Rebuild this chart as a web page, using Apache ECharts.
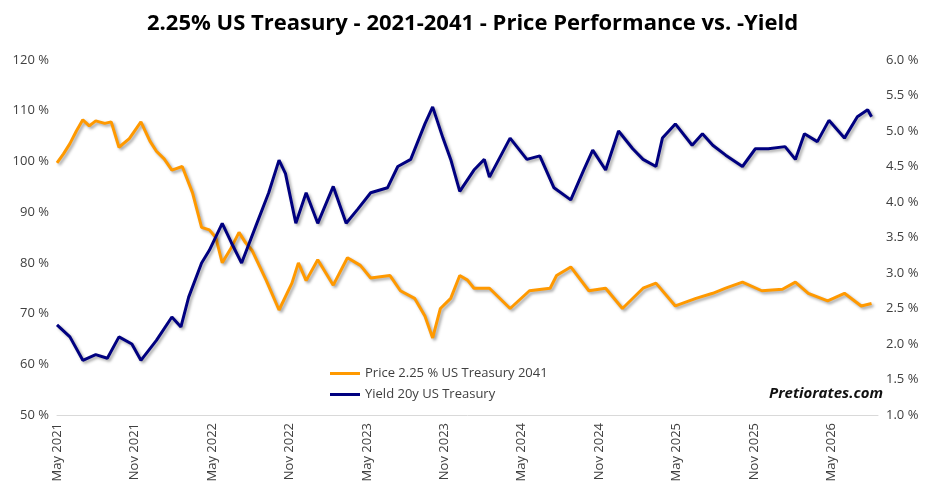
<!DOCTYPE html>
<html>
<head>
<meta charset="utf-8">
<script src="https://cdn.jsdelivr.net/npm/echarts@6/dist/echarts.min.js"></script>
<style>
    html, body { margin: 0; padding: 0; background: #fff; }
    #chart { width: 945px; height: 495px; }
</style>
</head>
<body>
<div id="chart"></div>
<script>
// x values are months since May 2021
var priceMonths = [0, 0.5, 1, 1.5, 2, 2.5, 3, 3.7, 4.2, 4.8, 5.6, 6.5, 7.2, 7.7, 8.3, 8.9, 9.7, 10.5, 11.2, 11.8, 12.3, 12.8, 13.5, 14.1, 14.6, 15.1, 16.2, 17.2, 18.2, 18.7, 19.3, 20.2, 21.4, 22.5, 23.5, 24.3, 25.8, 26.6, 27.7, 28.5, 29.1, 29.7, 30.5, 31.2, 31.8, 32.3, 33.5, 35.1, 36.6, 38.2, 38.7, 39.8, 41.2, 42.5, 43.8, 45.4, 46.4, 47.9, 49.5, 50.8, 51.8, 53.1, 54.6, 56.2, 57.2, 58.2, 59.7, 61, 62.3, 63.1];
var priceValues = [99.7, 101.5, 103.5, 106, 108.2, 107, 108, 107.5, 107.8, 102.8, 104.5, 107.8, 104, 102, 100.5, 98.3, 99, 93.8, 87, 86.5, 85, 80, 83, 86, 84, 82.5, 76.6, 70.7, 76, 80, 76.5, 80.6, 75.6, 81, 79.5, 77, 77.5, 74.5, 73, 69.5, 65.2, 71, 73, 77.5, 76.6, 75, 75, 71, 74.5, 75, 77.5, 79.2, 74.5, 75, 71, 75, 76, 71.5, 73, 74, 75, 76.2, 74.5, 74.8, 76.2, 74, 72.5, 74, 71.5, 72];

var yieldMonths = [0, 1, 2, 3, 3.9, 4.8, 5.8, 6.5, 7.7, 8.9, 9.6, 10.2, 11.2, 11.8, 12.8, 13.5, 14.3, 15.4, 16.4, 17.2, 17.7, 18.5, 19.3, 20.2, 21.4, 22.4, 23.3, 24.3, 25.6, 26.4, 27.4, 28.5, 29.1, 29.9, 30.5, 31.2, 32.3, 33.1, 33.5, 35.1, 36.4, 37.4, 38.5, 39.8, 40.8, 41.5, 42.5, 43.5, 44.6, 45.4, 46.4, 46.9, 47.9, 49.2, 50, 50.8, 51.8, 53.1, 54.1, 55.1, 56.4, 57.2, 57.9, 58.9, 59.8, 61, 62, 62.8, 63.1];
var yieldValues = [2.27, 2.1, 1.77, 1.85, 1.8, 2.1, 2.0, 1.77, 2.05, 2.38, 2.24, 2.66, 3.14, 3.32, 3.7, 3.43, 3.14, 3.66, 4.13, 4.59, 4.4, 3.7, 4.13, 3.7, 4.22, 3.7, 3.9, 4.13, 4.2, 4.5, 4.6, 5.1, 5.34, 4.9, 4.6, 4.15, 4.45, 4.6, 4.35, 4.9, 4.6, 4.65, 4.2, 4.03, 4.45, 4.73, 4.45, 5.0, 4.75, 4.6, 4.5, 4.9, 5.1, 4.8, 4.96, 4.8, 4.66, 4.5, 4.75, 4.75, 4.78, 4.6, 4.96, 4.85, 5.15, 4.9, 5.2, 5.3, 5.2];

var monthNames = ['May', 'Nov'];

function pairs(xs, ys) {
    return xs.map(function(x, i) { return [x, ys[i]]; });
}

var myChart = echarts.init(document.getElementById('chart'));
var font = 'Open Sans';
var option = {
    backgroundColor: '#fff',
    title: {
        text: '2.25% US Treasury - 2021-2041 - Price Performance vs. -Yield',
        left: 'center',
        top: 8,
        textStyle: { fontFamily: font, fontWeight: 'bold', fontSize: 22, color: '#000' }
    },
    legend: {
        orient: 'vertical',
        left: 325,
        top: 362,
        itemWidth: 30,
        itemHeight: 3,
        itemGap: 8,
        icon: 'rect',
        textStyle: { fontFamily: font, fontSize: 13, color: '#404040' },
        data: ['Price 2.25 % US Treasury 2041', 'Yield 20y US Treasury']
    },
    graphic: [{
        type: 'text',
        right: 62,
        top: 386,
        style: { text: 'Pretiorates.com', fontFamily: font, fontWeight: 'bold', fontStyle: 'italic', fontSize: 15, fill: '#111' }
    }],
    grid: { left: 57, right: 67, top: 60, bottom: 80 },
    xAxis: {
        type: 'value',
        min: 0,
        max: 63.6,
        interval: 6,
        splitLine: { show: false },
        axisLine: { show: true, lineStyle: { color: '#d9d9d9' } },
        axisTick: { show: false },
        axisLabel: {
            rotate: 90,
            fontFamily: font,
            fontSize: 13,
            color: '#404040',
            showMaxLabel: false,
            formatter: function(v) {
                var k = Math.round(v / 6);
                return monthNames[k % 2] + ' ' + (2021 + Math.floor(k / 2));
            }
        }
    },
    yAxis: [{
        type: 'value',
        min: 50,
        max: 120,
        interval: 10,
        splitLine: { show: false },
        axisLine: { show: false },
        axisTick: { show: false },
        axisLabel: { fontFamily: font, fontSize: 13, color: '#404040', formatter: '{value} %' }
    }, {
        type: 'value',
        min: 1,
        max: 6,
        interval: 0.5,
        splitLine: { show: false },
        axisLine: { show: false },
        axisTick: { show: false },
        axisLabel: {
            fontFamily: font, fontSize: 13, color: '#404040',
            formatter: function(v) { return v.toFixed(1) + ' %'; }
        }
    }],
    series: [{
        name: 'Price 2.25 % US Treasury 2041',
        type: 'line',
        yAxisIndex: 0,
        symbol: 'none',
        color: '#ff9900',
        lineStyle: { width: 3, shadowColor: 'rgba(0,0,0,0.35)', shadowBlur: 3, shadowOffsetX: 2, shadowOffsetY: 2 },
        data: pairs(priceMonths, priceValues)
    }, {
        name: 'Yield 20y US Treasury',
        type: 'line',
        yAxisIndex: 1,
        symbol: 'none',
        color: '#000080',
        lineStyle: { width: 3, shadowColor: 'rgba(0,0,0,0.35)', shadowBlur: 3, shadowOffsetX: 2, shadowOffsetY: 2 },
        data: pairs(yieldMonths, yieldValues)
    }]
};
myChart.setOption(option);
</script>
</body>
</html>
